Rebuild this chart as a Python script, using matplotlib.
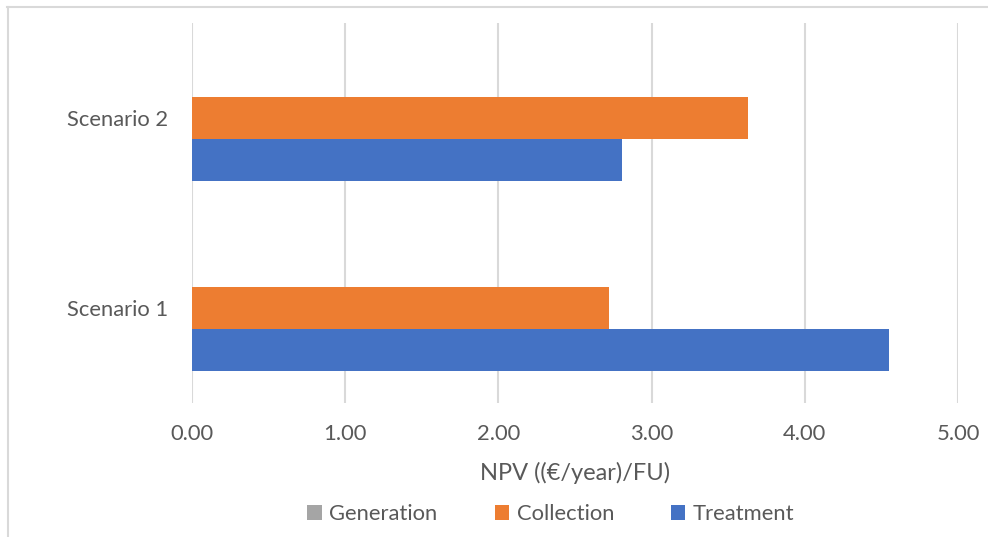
import matplotlib.pyplot as plt
import numpy as np

plt.rcParams["font.family"] = ["Lato", "DejaVu Sans"]

scenarios = ["Scenario 1", "Scenario 2"]
generation = [0.0, 0.0]
collection = [2.72, 3.63]
treatment = [4.55, 2.81]

series_names = ["Generation", "Collection", "Treatment"]
series_colors = ["#A5A5A5", "#ED7D31", "#4472C4"]
x_ticks = [0, 1, 2, 3, 4, 5]

TEXT = "#595959"
GRID = "#D9D9D9"
FS = 15.8

fig = plt.figure(figsize=(9.88, 5.37), dpi=100)
ax = fig.add_axes([192 / 988, 1 - 403 / 537, 766 / 988, 380 / 537])

y = np.arange(len(scenarios))
h = 0.221
ax.barh(y + h, generation, height=h, color=series_colors[0], label=series_names[0])
ax.barh(y, collection, height=h, color=series_colors[1], label=series_names[1])
ax.barh(y - h, treatment, height=h, color=series_colors[2], label=series_names[2])

ax.set_xlim(0, 5)
ax.set_ylim(-0.5, 1.5)
ax.set_xticks(x_ticks)
ax.set_xticklabels([f"{v:.2f}" for v in x_ticks])
ax.set_yticks(y)
ax.set_yticklabels(scenarios)
ax.tick_params(axis="both", length=0, labelsize=FS, colors=TEXT)
ax.tick_params(axis="x", pad=15)
ax.tick_params(axis="y", pad=17)

ax.grid(axis="x", color=GRID, linewidth=1.5)
ax.set_axisbelow(True)
for s in ax.spines.values():
    s.set_visible(False)

ax.set_xlabel("NPV ((€/year)/FU)", fontsize=17, color=TEXT)
ax.xaxis.set_label_coords(0.5, -70 / 380)
ax.xaxis.label.set_va("center")

leg = fig.legend(loc="center", bbox_to_anchor=(551 / 988, 1 - 514 / 537), ncol=3,
                 frameon=False, fontsize=FS, handlelength=0.65, handleheight=0.65,
                 handletextpad=0.35, columnspacing=2.6)
for t in leg.get_texts():
    t.set_color(TEXT)

# chart border (top and left edges visible)
fig.add_artist(plt.Line2D([7 / 988, 1], [1 - 6.5 / 537] * 2, color=GRID, linewidth=1.5))
fig.add_artist(plt.Line2D([7.5 / 988] * 2, [0, 1 - 6.5 / 537], color=GRID, linewidth=1.5))

fig.savefig("out.png", dpi=100)
